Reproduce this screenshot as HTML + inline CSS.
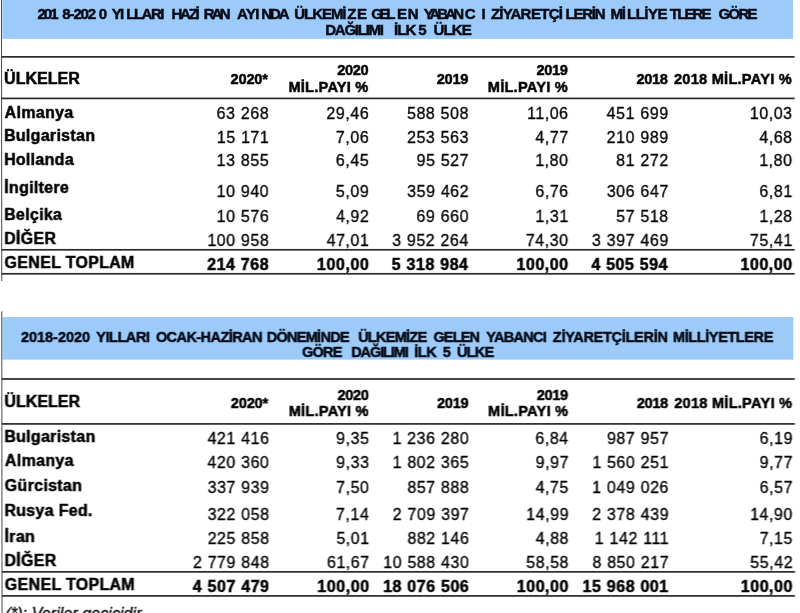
<!DOCTYPE html>
<html lang="tr"><head><meta charset="utf-8"><title>Tablo</title>
<style>
html,body{margin:0;padding:0;background:#fff;}
body{width:800px;height:613px;position:relative;overflow:hidden;font-family:"Liberation Sans",sans-serif;}
#pg{position:absolute;left:0;top:0;width:800px;height:613px;transform:skewX(0.05deg);transform-origin:0 0;filter:blur(0.4px);}
#bg{position:absolute;left:0;top:0;overflow:visible;}
.t{position:absolute;white-space:pre;line-height:1;color:#000;font-size:16px;}
.b{font-weight:bold;-webkit-text-stroke:0.5px currentColor;}
.i{font-style:italic;}
.n{-webkit-text-stroke:0.3px #000;}
.h{font-size:14.5px;}
</style></head><body><div id="pg">
<svg id="bg" width="800" height="613" viewBox="0 0 800 613">
<rect x="2.40" y="-6.00" width="790.60" height="44.90" fill="#9ccbf9"/>
<rect x="2.40" y="317.00" width="790.60" height="42.60" fill="#9ccbf9"/>
<rect x="1.00" y="-6.00" width="1.00" height="287.00" fill="#484848"/>
<rect x="1.00" y="311.30" width="1.00" height="310.00" fill="#484848"/>
<rect x="1.50" y="56.00" width="793.00" height="1.70" fill="#2a2a2a"/>
<rect x="1.50" y="97.55" width="793.00" height="1.70" fill="#2a2a2a"/>
<rect x="1.50" y="248.95" width="793.00" height="1.70" fill="#2a2a2a"/>
<rect x="1.50" y="272.95" width="793.00" height="1.70" fill="#2a2a2a"/>
<rect x="1.50" y="378.15" width="793.00" height="1.70" fill="#2a2a2a"/>
<rect x="1.50" y="423.05" width="793.00" height="1.70" fill="#2a2a2a"/>
<rect x="1.50" y="571.00" width="793.00" height="1.70" fill="#2a2a2a"/>
<rect x="1.50" y="595.05" width="793.00" height="1.70" fill="#2a2a2a"/>
</svg>
<span class="t b" style="left:37.58px;top:6px;font-size:15px;letter-spacing:-2.055px;color:#040a16;">201</span>
<span class="t b" style="left:62.30px;top:6px;font-size:15px;letter-spacing:-1.121px;color:#040a16;">8-202</span>
<span class="t b" style="left:98.80px;top:6px;font-size:15px;color:#040a16;">0</span>
<span class="t b" style="left:111.64px;top:6px;font-size:15px;letter-spacing:-1.530px;color:#040a16;">YI</span>
<span class="t b" style="left:126.19px;top:6px;font-size:15px;letter-spacing:-1.467px;color:#040a16;">LLARI</span>
<span class="t b" style="left:171.49px;top:6px;font-size:15px;letter-spacing:-2.251px;color:#040a16;">HAZİ</span>
<span class="t b" style="left:203.74px;top:6px;font-size:15px;letter-spacing:-2.864px;color:#040a16;">RAN</span>
<span class="t b" style="left:237.12px;top:6px;font-size:15px;letter-spacing:-0.637px;color:#040a16;">AYI</span>
<span class="t b" style="left:261.24px;top:6px;font-size:15px;letter-spacing:-2.039px;color:#040a16;">NDA</span>
<span class="t b" style="left:294.35px;top:6px;font-size:15px;letter-spacing:-1.073px;color:#040a16;">ÜLKEMİ</span>
<span class="t b" style="left:347.30px;top:6px;font-size:15px;letter-spacing:0.625px;color:#040a16;">ZE</span>
<span class="t b" style="left:371.15px;top:6px;font-size:15px;letter-spacing:-3.261px;color:#040a16;">GEL</span>
<span class="t b" style="left:396.99px;top:6px;font-size:15px;letter-spacing:0.683px;color:#040a16;">EN</span>
<span class="t b" style="left:423.74px;top:6px;font-size:15px;letter-spacing:-2.922px;color:#040a16;">YABAN</span>
<span class="t b" style="left:464.65px;top:6px;font-size:15px;letter-spacing:6.080px;color:#040a16;">CI</span>
<span class="t b" style="left:491.05px;top:6px;font-size:15px;letter-spacing:-0.845px;color:#040a16;">ZİYAR</span>
<span class="t b" style="left:530.99px;top:6px;font-size:15px;letter-spacing:-0.725px;color:#040a16;">ETÇİ</span>
<span class="t b" style="left:565.49px;top:6px;font-size:15px;letter-spacing:-1.225px;color:#040a16;">LERİ</span>
<span class="t b" style="left:594.74px;top:6px;font-size:15px;color:#040a16;">N</span>
<span class="t b" style="left:610.59px;top:6px;font-size:15px;letter-spacing:-1.270px;color:#040a16;">Mİ</span>
<span class="t b" style="left:626.99px;top:6px;font-size:15px;letter-spacing:-0.475px;color:#040a16;">LLİYE</span>
<span class="t b" style="left:669.85px;top:6px;font-size:15px;letter-spacing:-1.856px;color:#040a16;">TLERE</span>
<span class="t b" style="left:718.40px;top:6px;font-size:15px;letter-spacing:-1.660px;color:#040a16;">GÖRE</span>
<span class="t b" style="left:325.24px;top:22px;font-size:15px;letter-spacing:-1.250px;color:#040a16;">DAĞILIMI</span>
<span class="t b" style="left:393.99px;top:22px;font-size:15px;letter-spacing:-0.878px;color:#040a16;">İLK</span>
<span class="t b" style="left:418.30px;top:22px;font-size:15px;color:#040a16;">5</span>
<span class="t b" style="left:433.60px;top:22px;font-size:15px;letter-spacing:-0.864px;color:#040a16;">ÜLKE</span>
<span class="t b h" style="left:20.74px;top:330px;letter-spacing:-0.030px;color:#040a16;">2018-2020</span>
<span class="t b h" style="left:96.00px;top:330px;letter-spacing:-0.448px;color:#040a16;">YILLARI</span>
<span class="t b h" style="left:155.67px;top:330px;letter-spacing:-0.565px;color:#040a16;">OCAK-HAZİRAN</span>
<span class="t b h" style="left:266.52px;top:330px;letter-spacing:-0.727px;color:#040a16;">DÖNEMİNDE</span>
<span class="t b h" style="left:357.88px;top:330px;letter-spacing:-0.738px;color:#040a16;">ÜLKEMİZE</span>
<span class="t b h" style="left:433.17px;top:330px;letter-spacing:-0.849px;color:#040a16;">GELEN</span>
<span class="t b h" style="left:486.00px;top:330px;letter-spacing:-0.713px;color:#040a16;">YABANCI</span>
<span class="t b h" style="left:552.57px;top:330px;letter-spacing:-0.276px;color:#040a16;">ZİYARETÇİLERİN</span>
<span class="t b h" style="left:672.77px;top:330px;letter-spacing:-0.402px;color:#040a16;">MİLLİYETLERE</span>
<span class="t b h" style="left:301.72px;top:345px;letter-spacing:-0.783px;color:#040a16;">GÖRE</span>
<span class="t b h" style="left:351.02px;top:345px;letter-spacing:-1.117px;color:#040a16;">DAĞILIMI</span>
<span class="t b h" style="left:414.02px;top:345px;letter-spacing:-0.494px;color:#040a16;">İLK</span>
<span class="t b h" style="left:442.56px;top:345px;color:#040a16;">5</span>
<span class="t b h" style="left:456.63px;top:345px;letter-spacing:-0.743px;color:#040a16;">ÜLKE</span>
<span class="t b" style="left:4.04px;top:71px;letter-spacing:0.053px;">ÜLKELER</span>
<span class="t b h" style="left:230.49px;top:72px;letter-spacing:-0.117px;">2020*</span>
<span class="t b h" style="left:337.14px;top:63px;letter-spacing:-0.300px;">2020</span>
<span class="t b h" style="left:288.42px;top:80px;letter-spacing:0.279px;">MİL.PAYI %</span>
<span class="t b h" style="left:436.87px;top:72px;letter-spacing:-0.300px;">2019</span>
<span class="t b h" style="left:536.47px;top:63px;letter-spacing:-0.300px;">2019</span>
<span class="t b h" style="left:487.82px;top:80px;letter-spacing:0.279px;">MİL.PAYI %</span>
<span class="t b h" style="left:636.39px;top:72px;letter-spacing:-0.300px;">2018</span>
<span class="t b h" style="left:673.99px;top:72px;letter-spacing:0.290px;">2018 MİL.PAYI %</span>
<span class="t b" style="left:4.04px;top:394px;letter-spacing:0.053px;">ÜLKELER</span>
<span class="t b h" style="left:230.49px;top:396px;letter-spacing:-0.117px;">2020*</span>
<span class="t b h" style="left:337.14px;top:388px;letter-spacing:-0.300px;">2020</span>
<span class="t b h" style="left:288.42px;top:404px;letter-spacing:0.279px;">MİL.PAYI %</span>
<span class="t b h" style="left:436.87px;top:396px;letter-spacing:-0.300px;">2019</span>
<span class="t b h" style="left:536.47px;top:388px;letter-spacing:-0.300px;">2019</span>
<span class="t b h" style="left:487.82px;top:404px;letter-spacing:0.279px;">MİL.PAYI %</span>
<span class="t b h" style="left:636.39px;top:396px;letter-spacing:-0.300px;">2018</span>
<span class="t b h" style="left:673.99px;top:396px;letter-spacing:0.290px;">2018 MİL.PAYI %</span>
<span class="t b" style="left:4.60px;top:105px;letter-spacing:0.300px;">Almanya</span>
<span class="t n" style="left:216.61px;top:106px;letter-spacing:0.550px;word-spacing:0.3px;">63 268</span>
<span class="t n" style="left:326.36px;top:106px;letter-spacing:0.550px;word-spacing:0.3px;">29,46</span>
<span class="t n" style="left:406.96px;top:106px;letter-spacing:0.550px;word-spacing:0.3px;">588 508</span>
<span class="t n" style="left:526.95px;top:106px;letter-spacing:0.550px;word-spacing:0.3px;">11,06</span>
<span class="t n" style="left:606.60px;top:106px;letter-spacing:0.550px;word-spacing:0.3px;">451 699</span>
<span class="t n" style="left:749.76px;top:106px;letter-spacing:0.550px;word-spacing:0.3px;">10,03</span>
<span class="t b" style="left:3.92px;top:128px;letter-spacing:0.300px;">Bulgaristan</span>
<span class="t n" style="left:216.69px;top:130px;letter-spacing:0.550px;word-spacing:0.3px;">15 171</span>
<span class="t n" style="left:335.81px;top:130px;letter-spacing:0.550px;word-spacing:0.3px;">7,06</span>
<span class="t n" style="left:406.96px;top:130px;letter-spacing:0.550px;word-spacing:0.3px;">253 563</span>
<span class="t n" style="left:535.29px;top:130px;letter-spacing:0.550px;word-spacing:0.3px;">4,77</span>
<span class="t n" style="left:606.60px;top:130px;letter-spacing:0.550px;word-spacing:0.3px;">210 989</span>
<span class="t n" style="left:759.21px;top:130px;letter-spacing:0.550px;word-spacing:0.3px;">4,68</span>
<span class="t b" style="left:3.92px;top:152px;letter-spacing:0.300px;">Hollanda</span>
<span class="t n" style="left:216.57px;top:153px;letter-spacing:0.550px;word-spacing:0.3px;">13 855</span>
<span class="t n" style="left:335.77px;top:153px;letter-spacing:0.550px;word-spacing:0.3px;">6,45</span>
<span class="t n" style="left:416.49px;top:153px;letter-spacing:0.550px;word-spacing:0.3px;">95 527</span>
<span class="t n" style="left:535.13px;top:153px;letter-spacing:0.550px;word-spacing:0.3px;">1,80</span>
<span class="t n" style="left:616.09px;top:153px;letter-spacing:0.550px;word-spacing:0.3px;">81 272</span>
<span class="t n" style="left:759.13px;top:153px;letter-spacing:0.550px;word-spacing:0.3px;">1,80</span>
<span class="t b" style="left:4.12px;top:180px;letter-spacing:0.300px;">İngiltere</span>
<span class="t n" style="left:216.53px;top:184px;letter-spacing:0.550px;word-spacing:0.3px;">10 940</span>
<span class="t n" style="left:335.85px;top:184px;letter-spacing:0.550px;word-spacing:0.3px;">5,09</span>
<span class="t n" style="left:407.04px;top:184px;letter-spacing:0.550px;word-spacing:0.3px;">359 462</span>
<span class="t n" style="left:535.21px;top:184px;letter-spacing:0.550px;word-spacing:0.3px;">6,76</span>
<span class="t n" style="left:606.64px;top:184px;letter-spacing:0.550px;word-spacing:0.3px;">306 647</span>
<span class="t n" style="left:759.29px;top:184px;letter-spacing:0.550px;word-spacing:0.3px;">6,81</span>
<span class="t b" style="left:3.92px;top:207px;letter-spacing:0.300px;">Belçika</span>
<span class="t n" style="left:216.61px;top:209px;letter-spacing:0.550px;word-spacing:0.3px;">10 576</span>
<span class="t n" style="left:335.89px;top:209px;letter-spacing:0.550px;word-spacing:0.3px;">4,92</span>
<span class="t n" style="left:416.33px;top:209px;letter-spacing:0.550px;word-spacing:0.3px;">69 660</span>
<span class="t n" style="left:535.29px;top:209px;letter-spacing:0.550px;word-spacing:0.3px;">1,31</span>
<span class="t n" style="left:616.01px;top:209px;letter-spacing:0.550px;word-spacing:0.3px;">57 518</span>
<span class="t n" style="left:759.21px;top:209px;letter-spacing:0.550px;word-spacing:0.3px;">1,28</span>
<span class="t b" style="left:3.92px;top:231px;letter-spacing:0.300px;">DİĞER</span>
<span class="t n" style="left:207.16px;top:233px;letter-spacing:0.550px;word-spacing:0.3px;">100 958</span>
<span class="t n" style="left:326.44px;top:233px;letter-spacing:0.550px;word-spacing:0.3px;">47,01</span>
<span class="t n" style="left:391.98px;top:233px;letter-spacing:0.550px;word-spacing:0.3px;">3 952 264</span>
<span class="t n" style="left:525.68px;top:233px;letter-spacing:0.550px;word-spacing:0.3px;">74,30</span>
<span class="t n" style="left:591.86px;top:233px;letter-spacing:0.550px;word-spacing:0.3px;">3 397 469</span>
<span class="t n" style="left:749.84px;top:233px;letter-spacing:0.550px;word-spacing:0.3px;">75,41</span>
<span class="t b" style="left:4.36px;top:255px;letter-spacing:0.300px;">GENEL TOPLAM</span>
<span class="t b" style="left:206.96px;top:257px;letter-spacing:0.550px;word-spacing:0.3px;">214 768</span>
<span class="t b" style="left:316.87px;top:257px;letter-spacing:0.550px;word-spacing:0.3px;">100,00</span>
<span class="t b" style="left:391.58px;top:257px;letter-spacing:0.550px;word-spacing:0.3px;">5 318 984</span>
<span class="t b" style="left:516.27px;top:257px;letter-spacing:0.550px;word-spacing:0.3px;">100,00</span>
<span class="t b" style="left:591.18px;top:257px;letter-spacing:0.550px;word-spacing:0.3px;">4 505 594</span>
<span class="t b" style="left:740.27px;top:257px;letter-spacing:0.550px;word-spacing:0.3px;">100,00</span>
<span class="t b" style="left:3.92px;top:429px;letter-spacing:0.300px;">Bulgaristan</span>
<span class="t n" style="left:207.16px;top:431px;letter-spacing:0.550px;word-spacing:0.3px;">421 416</span>
<span class="t n" style="left:335.77px;top:431px;letter-spacing:0.550px;word-spacing:0.3px;">9,35</span>
<span class="t n" style="left:392.14px;top:431px;letter-spacing:0.550px;word-spacing:0.3px;">1 236 280</span>
<span class="t n" style="left:534.97px;top:431px;letter-spacing:0.550px;word-spacing:0.3px;">6,84</span>
<span class="t n" style="left:606.64px;top:431px;letter-spacing:0.550px;word-spacing:0.3px;">987 957</span>
<span class="t n" style="left:759.25px;top:431px;letter-spacing:0.550px;word-spacing:0.3px;">6,19</span>
<span class="t b" style="left:4.60px;top:453px;letter-spacing:0.300px;">Almanya</span>
<span class="t n" style="left:207.08px;top:455px;letter-spacing:0.550px;word-spacing:0.3px;">420 360</span>
<span class="t n" style="left:335.81px;top:455px;letter-spacing:0.550px;word-spacing:0.3px;">9,33</span>
<span class="t n" style="left:392.18px;top:455px;letter-spacing:0.550px;word-spacing:0.3px;">1 802 365</span>
<span class="t n" style="left:535.29px;top:455px;letter-spacing:0.550px;word-spacing:0.3px;">9,97</span>
<span class="t n" style="left:591.90px;top:455px;letter-spacing:0.550px;word-spacing:0.3px;">1 560 251</span>
<span class="t n" style="left:759.29px;top:455px;letter-spacing:0.550px;word-spacing:0.3px;">9,77</span>
<span class="t b" style="left:4.36px;top:478px;letter-spacing:0.300px;">Gürcistan</span>
<span class="t n" style="left:207.20px;top:480px;letter-spacing:0.550px;word-spacing:0.3px;">337 939</span>
<span class="t n" style="left:335.73px;top:480px;letter-spacing:0.550px;word-spacing:0.3px;">7,50</span>
<span class="t n" style="left:406.96px;top:480px;letter-spacing:0.550px;word-spacing:0.3px;">857 888</span>
<span class="t n" style="left:535.17px;top:480px;letter-spacing:0.550px;word-spacing:0.3px;">4,75</span>
<span class="t n" style="left:591.82px;top:480px;letter-spacing:0.550px;word-spacing:0.3px;">1 049 026</span>
<span class="t n" style="left:759.29px;top:480px;letter-spacing:0.550px;word-spacing:0.3px;">6,57</span>
<span class="t b" style="left:3.92px;top:503px;letter-spacing:0.300px;">Rusya Fed.</span>
<span class="t n" style="left:207.16px;top:507px;letter-spacing:0.550px;word-spacing:0.3px;">322 058</span>
<span class="t n" style="left:335.57px;top:507px;letter-spacing:0.550px;word-spacing:0.3px;">7,14</span>
<span class="t n" style="left:392.30px;top:507px;letter-spacing:0.550px;word-spacing:0.3px;">2 709 397</span>
<span class="t n" style="left:525.80px;top:507px;letter-spacing:0.550px;word-spacing:0.3px;">14,99</span>
<span class="t n" style="left:591.86px;top:507px;letter-spacing:0.550px;word-spacing:0.3px;">2 378 439</span>
<span class="t n" style="left:749.68px;top:507px;letter-spacing:0.550px;word-spacing:0.3px;">14,90</span>
<span class="t b" style="left:4.12px;top:529px;letter-spacing:0.300px;">İran</span>
<span class="t n" style="left:207.16px;top:531px;letter-spacing:0.550px;word-spacing:0.3px;">225 858</span>
<span class="t n" style="left:335.89px;top:531px;letter-spacing:0.550px;word-spacing:0.3px;">5,01</span>
<span class="t n" style="left:406.96px;top:531px;letter-spacing:0.550px;word-spacing:0.3px;">882 146</span>
<span class="t n" style="left:535.21px;top:531px;letter-spacing:0.550px;word-spacing:0.3px;">4,88</span>
<span class="t n" style="left:594.27px;top:531px;letter-spacing:0.550px;word-spacing:0.3px;">1 142 111</span>
<span class="t n" style="left:759.17px;top:531px;letter-spacing:0.550px;word-spacing:0.3px;">7,15</span>
<span class="t b" style="left:3.92px;top:553px;letter-spacing:0.300px;">DİĞER</span>
<span class="t n" style="left:192.42px;top:555px;letter-spacing:0.550px;word-spacing:0.3px;">2 779 848</span>
<span class="t n" style="left:326.44px;top:555px;letter-spacing:0.550px;word-spacing:0.3px;">61,67</span>
<span class="t n" style="left:382.69px;top:555px;letter-spacing:0.550px;word-spacing:0.3px;">10 588 430</span>
<span class="t n" style="left:525.76px;top:555px;letter-spacing:0.550px;word-spacing:0.3px;">58,58</span>
<span class="t n" style="left:591.90px;top:555px;letter-spacing:0.550px;word-spacing:0.3px;">8 850 217</span>
<span class="t n" style="left:749.84px;top:555px;letter-spacing:0.550px;word-spacing:0.3px;">55,42</span>
<span class="t b" style="left:4.36px;top:577px;letter-spacing:0.300px;">GENEL TOPLAM</span>
<span class="t b" style="left:192.30px;top:579px;letter-spacing:0.550px;word-spacing:0.3px;">4 507 479</span>
<span class="t b" style="left:316.87px;top:579px;letter-spacing:0.550px;word-spacing:0.3px;">100,00</span>
<span class="t b" style="left:382.65px;top:579px;letter-spacing:0.550px;word-spacing:0.3px;">18 076 506</span>
<span class="t b" style="left:516.27px;top:579px;letter-spacing:0.550px;word-spacing:0.3px;">100,00</span>
<span class="t b" style="left:582.09px;top:579px;letter-spacing:0.550px;word-spacing:0.3px;">15 968 001</span>
<span class="t b" style="left:740.27px;top:579px;letter-spacing:0.550px;word-spacing:0.3px;">100,00</span>
<span class="t n i" style="left:5.04px;top:606px;letter-spacing:0.069px;">(*): Veriler geçicidir.</span>
</div></body></html>
